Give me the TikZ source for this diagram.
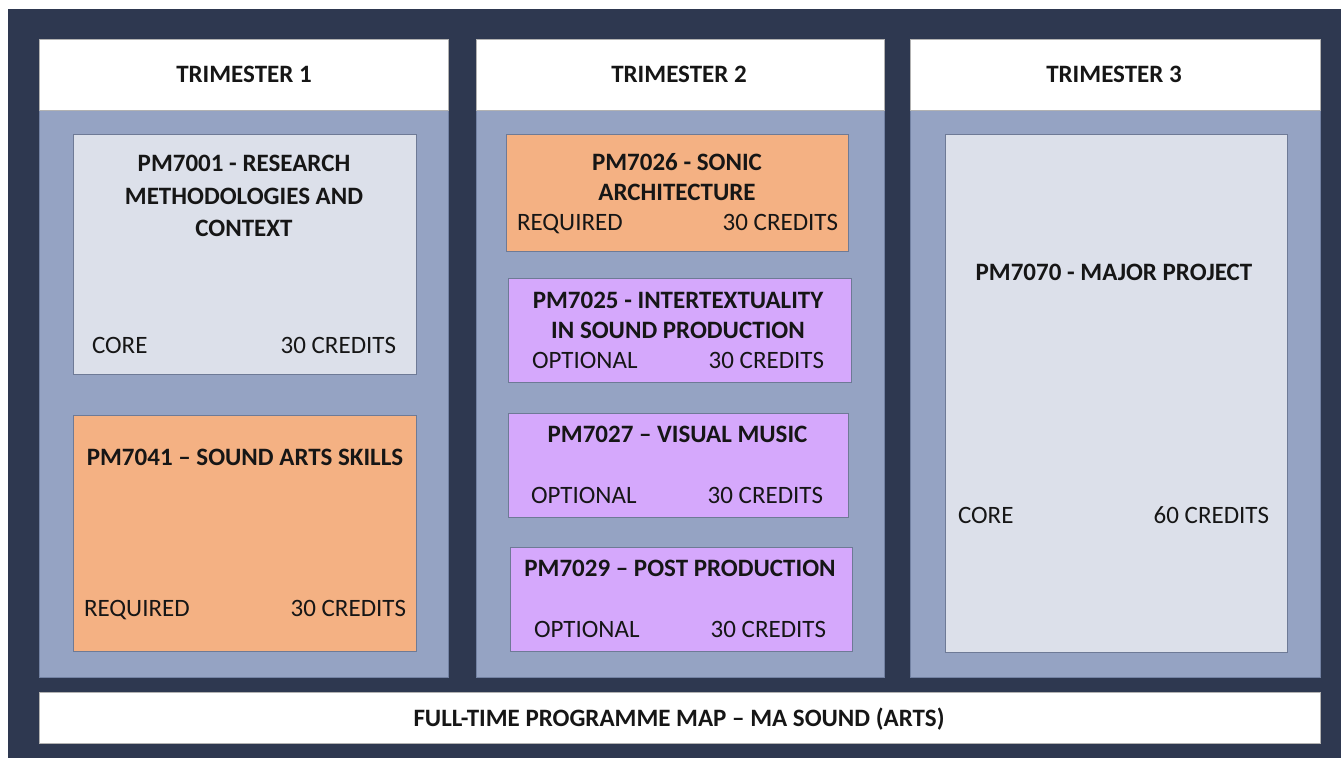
\documentclass[tikz,border=0pt]{standalone}
\usepackage{fontspec}
\setmainfont{Carlito}
\definecolor{darkbg}{HTML}{2E3850}
\definecolor{panelc}{HTML}{95A3C3}
\definecolor{panelb}{HTML}{7382A3}
\definecolor{corec}{HTML}{DCE0EA}
\definecolor{reqc}{HTML}{F4B183}
\definecolor{optc}{HTML}{D5A8FC}
\definecolor{boxb}{HTML}{6E7A96}
\definecolor{txt}{HTML}{161616}
\begin{document}
\begin{tikzpicture}[x=1pt,y=-1pt,
  frame/.style={rectangle, inner sep=0, outer sep=0},
  panel/.style={frame, fill=panelc, draw=panelb, line width=1pt},
  header/.style={frame, fill=white, draw=gray!60, line width=1pt},
  corebox/.style={frame, fill=corec, draw=boxb, line width=1pt},
  reqbox/.style={frame, fill=reqc, draw=boxb, line width=1pt},
  optbox/.style={frame, fill=optc, draw=boxb, line width=1pt},
  lab/.style={inner sep=0, outer sep=0, text=txt, font=\fontsize{25}{30}\selectfont},
  ttl/.style={lab, font=\fontsize{25}{30}\selectfont\bfseries}]
\useasboundingbox (0,0) rectangle (1341,758);
\fill[white] (0,0) rectangle (1341,758);
\node[frame, fill=darkbg, minimum width=1333pt, minimum height=749pt] (bg) at (674.5,383.5) {};
% panels
\node[panel, minimum width=409pt, minimum height=567pt] (p1) at (243.5,393.5) {};
\node[panel, minimum width=408pt, minimum height=567pt] (p2) at (680,393.5) {};
\node[panel, minimum width=410pt, minimum height=567pt] (p3) at (1115,393.5) {};
% headers
\node[header, minimum width=409pt, minimum height=71pt] (h1) at (243.5,74.5) {};
\node[header, minimum width=408pt, minimum height=71pt] (h2) at (680,74.5) {};
\node[header, minimum width=410pt, minimum height=71pt] (h3) at (1115,74.5) {};
\node[ttl, anchor=base] (h1t) at (244,82) {TRIMESTER 1};
\node[ttl, anchor=base] (h2t) at (679,82) {TRIMESTER 2};
\node[ttl, anchor=base] (h3t) at (1114,82) {TRIMESTER 3};
% footer
\node[header, minimum width=1281pt, minimum height=51pt] (ft) at (679.5,717.5) {};
\node[ttl, anchor=base] (ftt) at (679,726) {FULL-TIME PROGRAMME MAP -- MA SOUND (ARTS)};
% trimester 1
\node[corebox, minimum width=343pt, minimum height=240pt] (m7001) at (244.5,254) {};
\node[ttl, anchor=base] (m7001a) at (244,171) {PM7001 - RESEARCH};
\node[ttl, anchor=base] (m7001b) at (244,204) {METHODOLOGIES AND};
\node[ttl, anchor=base] (m7001c) at (244,236) {CONTEXT};
\node[lab, anchor=base west] (m7001l) at (92,353) {CORE};
\node[lab, anchor=base east] (m7001r) at (396,353) {30 CREDITS};
\node[reqbox, minimum width=343pt, minimum height=236pt] (m7041) at (244.5,533) {};
\node[ttl, anchor=base] (m7041a) at (245,465) {PM7041 -- SOUND ARTS SKILLS};
\node[lab, anchor=base west] (m7041l) at (84,616) {REQUIRED};
\node[lab, anchor=base east] (m7041r) at (406,616) {30 CREDITS};
% trimester 2
\node[reqbox, minimum width=342pt, minimum height=117pt] (m7026) at (677,192.5) {};
\node[ttl, anchor=base] (m7026a) at (677,170) {PM7026 - SONIC};
\node[ttl, anchor=base] (m7026b) at (677,200) {ARCHITECTURE};
\node[lab, anchor=base west] (m7026l) at (517,230) {REQUIRED};
\node[lab, anchor=base east] (m7026r) at (838,230) {30 CREDITS};
\node[optbox, minimum width=343pt, minimum height=104pt] (m7025) at (679.5,330) {};
\node[ttl, anchor=base] (m7025a) at (678,308) {PM7025 - INTERTEXTUALITY};
\node[ttl, anchor=base] (m7025b) at (678,338) {IN SOUND PRODUCTION};
\node[lab, anchor=base west] (m7025l) at (532,368) {OPTIONAL};
\node[lab, anchor=base east] (m7025r) at (824,368) {30 CREDITS};
\node[optbox, minimum width=340pt, minimum height=104pt] (m7027) at (678,465) {};
\node[ttl, anchor=base] (m7027a) at (677.5,442) {PM7027 -- VISUAL MUSIC};
\node[lab, anchor=base west] (m7027l) at (531,503) {OPTIONAL};
\node[lab, anchor=base east] (m7027r) at (823,503) {30 CREDITS};
\node[optbox, minimum width=342pt, minimum height=104pt] (m7029) at (681,599) {};
\node[ttl, anchor=base] (m7029a) at (680,576) {PM7029 -- POST PRODUCTION};
\node[lab, anchor=base west] (m7029l) at (534,637) {OPTIONAL};
\node[lab, anchor=base east] (m7029r) at (826,637) {30 CREDITS};
% trimester 3
\node[corebox, minimum width=342pt, minimum height=518pt] (m7070) at (1116,393) {};
\node[ttl, anchor=base] (m7070a) at (1114,280) {PM7070 - MAJOR PROJECT};
\node[lab, anchor=base west] (m7070l) at (958,523) {CORE};
\node[lab, anchor=base east] (m7070r) at (1269,523) {60 CREDITS};
\end{tikzpicture}
\end{document}
